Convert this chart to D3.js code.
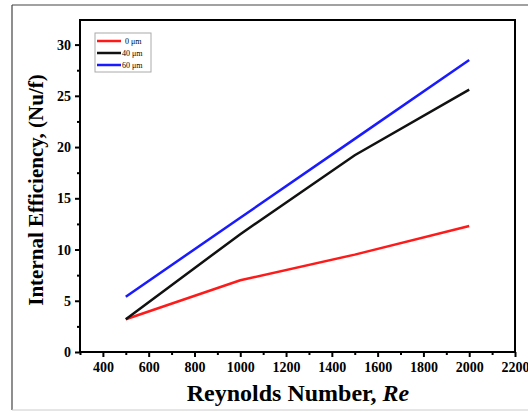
<!DOCTYPE html>
<html>
<head>
<meta charset="utf-8">
<script src="https://cdn.jsdelivr.net/npm/d3@7"></script>
<style>
  body { margin: 0; background: #fff; }
  svg { display: block; }
</style>
</head>
<body>
<script>
//chart values
var reynolds = [500, 1000, 1500, 2000];
var seriesNames = ["0 \u03bcm", "40 \u03bcm", "60 \u03bcm"];
var seriesColors = ["#ff1a1a", "#111111", "#1a1aff"];
var eff0 = [3.2, 7.0, 9.5, 12.3];
var eff40 = [3.2, 11.5, 19.2, 25.6];
var eff60 = [5.4, 13.1, 20.8, 28.5];
var xTicks = [400, 600, 800, 1000, 1200, 1400, 1600, 1800, 2000, 2200];
var yTicks = [0, 5, 10, 15, 20, 25, 30];

window.onload = drawChart();

function drawChart() {
    var width = 528,
        height = 412;

    var svg = d3.select("body")
        .append("svg")
        .attr("width", width)
        .attr("height", height);

    //outer frame around the figure
    svg.append("line").attr("x1", 12).attr("y1", 5).attr("x2", 528).attr("y2", 5)
        .attr("stroke", "#444").attr("stroke-width", 1.2);
    svg.append("line").attr("x1", 12).attr("y1", 5).attr("x2", 12).attr("y2", 410)
        .attr("stroke", "#444").attr("stroke-width", 1.2);
    svg.append("line").attr("x1", 12).attr("y1", 410).attr("x2", 528).attr("y2", 410)
        .attr("stroke", "#ccc").attr("stroke-width", 1);

    var x = d3.scaleLinear().domain([300, 2200]).range([80, 515]);
    var y = d3.scaleLinear().domain([0, 32.4]).range([352, 20]);

    //plot box
    svg.append("rect")
        .attr("x", x(300)).attr("y", y(32.4))
        .attr("width", x(2200) - x(300)).attr("height", y(0) - y(32.4))
        .attr("fill", "none").attr("stroke", "#000").attr("stroke-width", 2);

    //minor ticks
    var xMinor = d3.range(300, 2200, 100).filter(function (d) { return xTicks.indexOf(d) < 0; });
    svg.append("g")
        .attr("transform", "translate(0," + y(0) + ")")
        .call(d3.axisBottom(x).tickValues(xMinor).tickSize(3).tickFormat(""))
        .call(function (g) { g.select(".domain").remove(); })
        .selectAll("line").attr("stroke-width", 2);
    var yMinor = d3.range(2.5, 32.4, 5);
    svg.append("g")
        .attr("transform", "translate(" + x(300) + ",0)")
        .call(d3.axisLeft(y).tickValues(yMinor).tickSize(3).tickFormat(""))
        .call(function (g) { g.select(".domain").remove(); })
        .selectAll("line").attr("stroke-width", 2);

    //major axes
    var xAxis = svg.append("g")
        .attr("transform", "translate(0," + y(0) + ")")
        .call(d3.axisBottom(x).tickValues(xTicks).tickFormat(d3.format("d")).tickSize(5).tickPadding(5));
    var yAxis = svg.append("g")
        .attr("transform", "translate(" + x(300) + ",0)")
        .call(d3.axisLeft(y).tickValues(yTicks).tickFormat(d3.format("d")).tickSize(5).tickPadding(4));

    [xAxis, yAxis].forEach(function (g) {
        g.select(".domain").remove();
        g.selectAll("line").attr("stroke-width", 2);
        g.selectAll("text")
            .attr("font-family", "Liberation Serif, serif")
            .attr("font-weight", "bold")
            .attr("font-size", 14)
            .attr("fill", "#000");
    });

    //data lines
    var line = d3.line()
        .x(function (d, i) { return x(reynolds[i]); })
        .y(function (d) { return y(d); });

    var allSeries = [eff0, eff40, eff60];
    svg.selectAll(".series")
        .data(allSeries)
        .enter()
        .append("path")
        .attr("class", "series")
        .attr("d", line)
        .attr("fill", "none")
        .attr("stroke", function (d, i) { return seriesColors[i]; })
        .attr("stroke-width", 2.5);

    //legend
    var legend = svg.append("g").attr("transform", "translate(95,33)");
    legend.append("rect")
        .attr("width", 56).attr("height", 39)
        .attr("fill", "#fff").attr("stroke", "#aaa").attr("stroke-width", 1);
    seriesNames.forEach(function (name, i) {
        var ly = 8 + i * 12;
        legend.append("line")
            .attr("x1", 2).attr("x2", 26).attr("y1", ly).attr("y2", ly)
            .attr("stroke", seriesColors[i]).attr("stroke-width", 2.5);
        legend.append("text")
            .attr("x", i === 0 ? 30 : 27).attr("y", ly + 3)
            .attr("font-family", "Liberation Serif, serif")
            .attr("font-size", 8)
            .attr("fill", "#000")
            .text(name);
    });

    //axis titles
    var xTitle = svg.append("text")
        .attr("x", 298).attr("y", 401)
        .attr("text-anchor", "middle")
        .attr("font-family", "Liberation Serif, serif")
        .attr("font-weight", "bold")
        .attr("font-size", 24);
    xTitle.append("tspan").text("Reynolds Number, ");
    xTitle.append("tspan").attr("font-style", "italic").text("Re");

    svg.append("text")
        .attr("transform", "translate(43,190) rotate(-90)")
        .attr("text-anchor", "middle")
        .attr("font-family", "Liberation Serif, serif")
        .attr("font-weight", "bold")
        .attr("font-size", 21)
        .text("Internal Efficiency, (Nu/f)");
}
</script>
</body>
</html>
